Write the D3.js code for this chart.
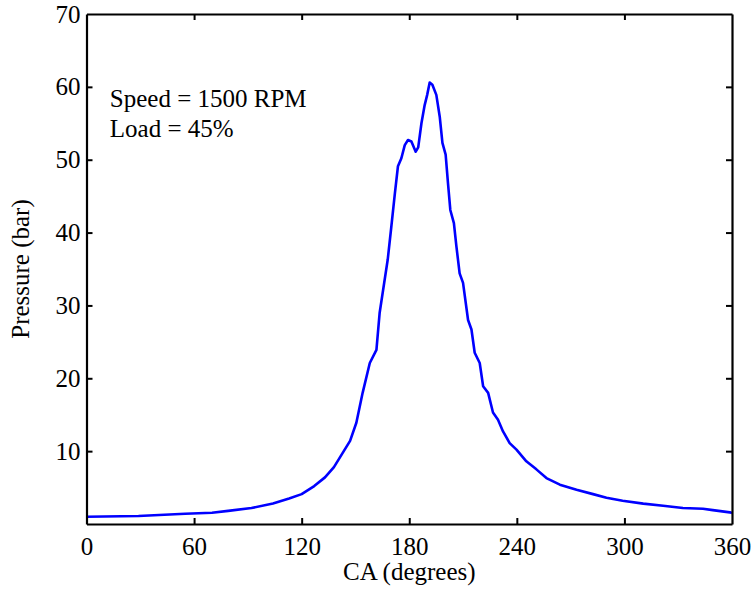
<!DOCTYPE html>
<html>
<head>
<meta charset="utf-8">
<script src="https://cdn.jsdelivr.net/npm/d3@7"></script>
<style>
  body { margin: 0; background: #fff; }
  text { font-family: "Liberation Serif", "Times New Roman", serif; }
</style>
</head>
<body>
<svg width="756" height="592"></svg>
<script>
// crank angle (deg) and cylinder pressure (bar)
const crankAngle = [0, 29, 55, 70, 79, 92, 104, 113, 120, 127, 133, 138, 141,
  147, 150.5, 154, 158, 161.7, 163.5, 168, 170, 172, 173.7, 175.6, 177.5, 179.3,
  181.2, 183.6, 185, 186.8, 188.6, 190, 191.4, 192.9, 195.1, 197, 198.5, 200.3,
  201.6, 202.9, 204.9, 206.3, 208.1, 210, 212.8, 214.7, 216.5, 219.3, 221.2,
  224, 226.7, 229.5, 232.3, 236, 239.8, 245.3, 250.9, 256.5, 264, 273.3, 282.5,
  290, 299, 310.5, 321.6, 332.6, 343.8, 349.3, 358.8, 360];
const pressure = [1.0, 1.1, 1.4, 1.55, 1.8, 2.2, 2.8, 3.5, 4.1, 5.2, 6.4, 7.8, 9.0,
  11.4, 13.9, 18.0, 22.1, 23.9, 29.0, 36.3, 40.8, 45.4, 49.1, 50.2, 52.0, 52.7,
  52.5, 51.1, 51.7, 55.0, 57.5, 58.9, 60.6, 60.3, 58.9, 55.9, 52.3, 50.7,
  46.8, 43.1, 41.3, 38.1, 34.4, 33.1, 28.0, 26.7, 23.5, 22.1, 18.9,
  18.0, 15.3, 14.3, 12.7, 11.1, 10.2, 8.6, 7.5, 6.3, 5.4, 4.7, 4.1,
  3.6, 3.2, 2.8, 2.5, 2.2, 2.1, 1.9, 1.6, 1.5];

const xTicks = [0, 60, 120, 180, 240, 300, 360];
const yTicks = [10, 20, 30, 40, 50, 60, 70];
const annotation = ["Speed = 1500 RPM", "Load = 45%"];

const svg = d3.select("svg");
const margin = {left: 86.5, right: 24, top: 14, bottom: 68};
const width = 756, height = 592;

const x = d3.scaleLinear().domain([0, 360]).range([margin.left, width - margin.right]);
const y = d3.scaleLinear().domain([0, 70]).range([height - margin.bottom, margin.top]);

const data = crankAngle.map((a, i) => ({a, p: pressure[i]}));

svg.append("path")
  .datum(data)
  .attr("fill", "none")
  .attr("stroke", "#0000ff")
  .attr("stroke-width", 2.6)
  .attr("stroke-linejoin", "round")
  .attr("d", d3.line().x(d => x(d.a)).y(d => y(d.p)));

const fontSize = 25;
const tickLen = 6;

// axes: ticks point inward, mirrored on top and right
const axBottom = svg.append("g")
  .attr("transform", `translate(0,${y(0)})`)
  .call(d3.axisBottom(x).tickValues(xTicks).tickSizeInner(-tickLen).tickSizeOuter(0).tickPadding(13));
const axTop = svg.append("g")
  .attr("transform", `translate(0,${y(70)})`)
  .call(d3.axisTop(x).tickValues(xTicks).tickSizeInner(-tickLen).tickSizeOuter(0).tickFormat(""));
const axLeft = svg.append("g")
  .attr("transform", `translate(${x(0)},0)`)
  .call(d3.axisLeft(y).tickValues(yTicks).tickSizeInner(-tickLen).tickSizeOuter(0).tickPadding(6));
const axRight = svg.append("g")
  .attr("transform", `translate(${x(360)},0)`)
  .call(d3.axisRight(y).tickValues(yTicks).tickSizeInner(-tickLen).tickSizeOuter(0).tickFormat(""));

[axBottom, axTop, axLeft, axRight].forEach(g => {
  g.select(".domain").attr("stroke", "#000").attr("stroke-width", 2.2);
  g.selectAll(".tick line").attr("stroke", "#000").attr("stroke-width", 2);
  g.selectAll(".tick text")
    .attr("fill", "#000")
    .style("font-family", "Liberation Serif, Times New Roman, serif")
    .style("font-size", fontSize + "px");
});
// no tick marks at the corners
axBottom.selectAll(".tick").filter(d => d === 0 || d === 360).select("line").remove();
axTop.selectAll(".tick").filter(d => d === 0 || d === 360).select("line").remove();
axLeft.selectAll(".tick").filter(d => d === 70).select("line").remove();
axRight.selectAll(".tick").filter(d => d === 70).select("line").remove();

svg.append("text")
  .attr("x", x(180))
  .attr("y", 580)
  .attr("text-anchor", "middle")
  .style("font-size", fontSize + "px")
  .text("CA (degrees)");

svg.append("text")
  .attr("transform", `translate(29,${y(35)}) rotate(-90)`)
  .attr("text-anchor", "middle")
  .style("font-size", fontSize + "px")
  .text("Pressure (bar)");

svg.append("g")
  .selectAll("text")
  .data(annotation)
  .join("text")
  .attr("x", x(13))
  .attr("y", (d, i) => y(57.3) + i * 30)
  .style("font-size", fontSize + "px")
  .text(d => d);
</script>
</body>
</html>
